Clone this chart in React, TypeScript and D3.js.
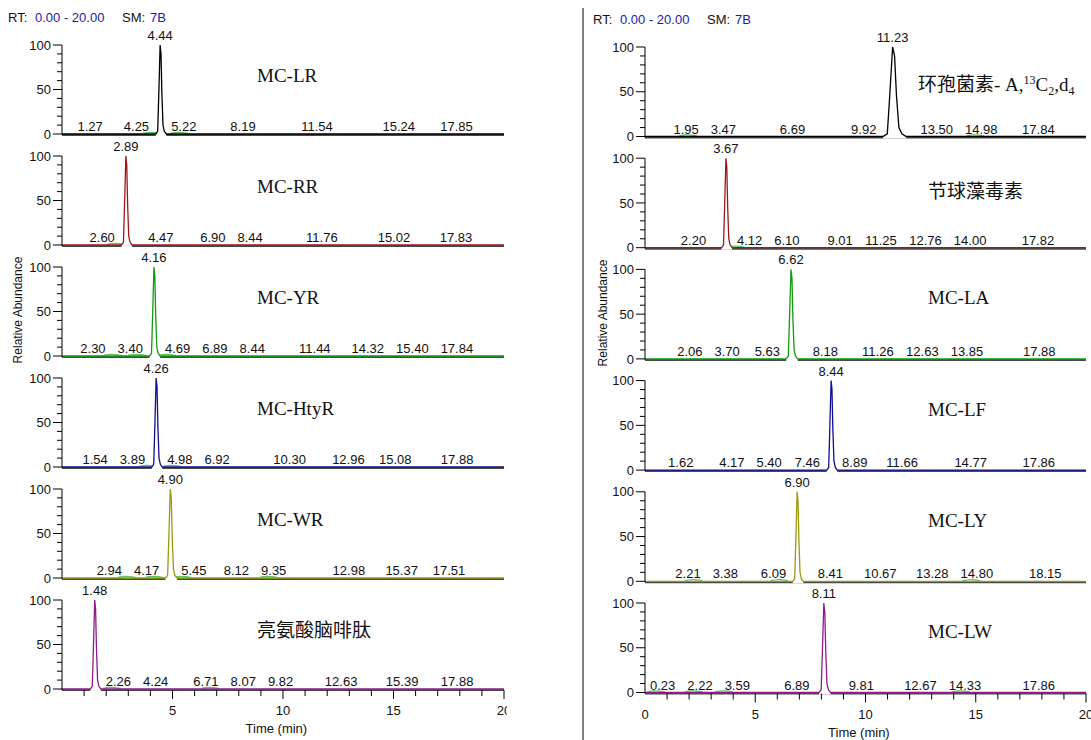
import React from 'react';
import * as d3 from 'd3';

// chromatogram panels, left column
const namesLeft = ['MC-LR', 'MC-RR', 'MC-YR', 'MC-HtyR', 'MC-WR', '亮氨酸脑啡肽'];
const peaksLeft = [4.44, 2.89, 4.16, 4.26, 4.90, 1.48];
const labelsLeft = [
  [1.27, 4.25, 5.22, 8.19, 11.54, 15.24, 17.85],
  [2.60, 4.47, 6.90, 8.44, 11.76, 15.02, 17.83],
  [2.30, 3.40, 4.69, 6.89, 8.44, 11.44, 14.32, 15.40, 17.84],
  [1.54, 3.89, 4.98, 6.92, 10.30, 12.96, 15.08, 17.88],
  [2.94, 4.17, 5.45, 8.12, 9.35, 12.98, 15.37, 17.51],
  [2.26, 4.24, 6.71, 8.07, 9.82, 12.63, 15.39, 17.88],
];
const minorLeft = [
  [4.05, 5.3],
  [2.45],
  [2.3, 3.4, 4.75],
  [3.89, 4.98],
  [2.94, 4.17, 5.45, 9.35],
  [2.26, 6.71],
];
const widthsLeft = [1, 1, 1, 1, 1.1, 1];

// right column
const namesRight = ['环孢菌素- A,^{13}C_{2},d_{4}', '节球藻毒素', 'MC-LA', 'MC-LF', 'MC-LY', 'MC-LW'];
const peaksRight = [11.23, 3.67, 6.62, 8.44, 6.90, 8.11];
const labelsRight = [
  [1.95, 3.47, 6.69, 9.92, 13.50, 14.98, 17.84],
  [2.20, 4.12, 6.10, 9.01, 11.25, 12.76, 14.00, 17.82],
  [2.06, 3.70, 5.63, 8.18, 11.26, 12.63, 13.85, 17.88],
  [1.62, 4.17, 5.40, 7.46, 8.89, 11.66, 14.77, 17.86],
  [2.21, 3.38, 6.09, 8.41, 10.67, 13.28, 14.80, 18.15],
  [0.23, 2.22, 3.59, 6.89, 9.81, 12.67, 14.33, 17.86],
];
const minorRight = [
  [1.95, 14.98],
  [4.12],
  [],
  [],
  [2.21, 6.09, 14.80],
  [0.5, 2.22, 3.59, 14.33],
];
const widthsRight = [2.2, 1, 1.1, 1, 1, 1.1];

// peak profile: [minutes offset, % height]
const PEAK_PROFILE = [[-0.2, 0], [-0.11, 3], [-0.06, 45], [0, 100], [0.04, 90], [0.08, 45], [0.13, 10], [0.19, 3], [0.28, 0]];
const MINOR_PROFILE = [[-0.4, 0.9], [-0.1, 2.0], [0.15, 1.6], [0.4, 0.6]];

const colors = ['#000000', '#9b1b1b', '#139a13', '#10108c', '#9a9a10', '#8e1c8e'];
const SANS = '"Liberation Sans", Arial, sans-serif';
const SERIF = '"Liberation Serif", "Times New Roman", "Noto Sans CJK SC", serif';
const GAP = 12;

function labelWidth(s: string) {
  const dots = (s.match(/\./g) || []).length;
  return s.length * 7.23 - dots * 3.6;
}

// spread labels so they don't overlap each other, staying within [lo, hi]
function spread(items: { c: number; w: number }[], lo: number, hi: number) {
  let clusters = items.map((it) => ({ items: [it], left: 0, total: it.w }));
  const layout = (cl: any) => {
    let off = 0;
    let sum = 0;
    cl.items.forEach((it: any) => {
      sum += it.c - (off + it.w / 2);
      off += it.w + GAP;
    });
    cl.total = off - GAP;
    cl.left = sum / cl.items.length;
    cl.left = Math.min(Math.max(cl.left, lo), hi - cl.total);
  };
  clusters.forEach(layout);
  let merged = true;
  while (merged) {
    merged = false;
    for (let i = 0; i < clusters.length - 1; i++) {
      const a = clusters[i];
      const b = clusters[i + 1];
      if (a.left + a.total + GAP > b.left) {
        a.items = a.items.concat(b.items);
        layout(a);
        clusters.splice(i + 1, 1);
        merged = true;
        break;
      }
    }
  }
  const out: number[] = [];
  clusters.forEach((cl) => {
    let off = cl.left;
    cl.items.forEach((it) => {
      out.push(off + it.w / 2);
      off += it.w + GAP;
    });
  });
  return out;
}

function RichName({ text, x, y }: { text: string; x: number; y: number }) {
  const parts = text.split(/(\^\{[^}]*\}|_\{[^}]*\})/).filter((p) => p !== '');
  let shift = 0;
  const spans = parts.map((p, i) => {
    let dy = 0;
    let content = p;
    let fs: number | undefined;
    if (p.startsWith('^{')) {
      content = p.slice(2, -1);
      dy = -7 - shift;
      shift = -7;
      fs = 12;
    } else if (p.startsWith('_{')) {
      content = p.slice(2, -1);
      dy = 4 - shift;
      shift = 4;
      fs = 12;
    } else {
      dy = -shift;
      shift = 0;
    }
    return (
      <tspan key={i} dy={dy} fontSize={fs}>
        {content}
      </tspan>
    );
  });
  return (
    <text x={x} y={y} fontFamily={SERIF} fontSize={19} fill="#111">
      {spans}
    </text>
  );
}

function Panel(props: any) {
  const { x, top, h, color, name, peak, labels, minor, pw, nameX, nameY, axis, showZero } = props;
  const y = d3.scaleLinear().domain([0, 100]).range([top + h, top]);
  const y0 = y(0);
  const [d0, d1] = x.domain();
  const peakPts = PEAK_PROFILE.map(([dt, v]) => [peak + dt * pw, v]);
  const pts = [[d0, 0], ...peakPts, [d1, 0]];
  const line = d3.line<number[]>().x((d) => x(d[0])).y((d) => y(d[1]));
  const area = d3.area<number[]>().x((d) => x(d[0])).y0(y0 + 2).y1((d) => y(d[1]));
  const minorLine = d3.line<number[]>().x((d) => x(d[0])).y((d) => y(d[1])).curve(d3.curveBasis);
  const px = x(peak);
  const x0 = x(d0);

  const yTicks = y.ticks(10);
  const xTicks = x.ticks(20);

  // label placement: keep clear of the main peak, then of each other
  const items = labels.map((t: number) => {
    const s = t.toFixed(2);
    return { t, s, c: x(t), w: labelWidth(s) };
  });
  const leftSide = items.filter((it: any) => it.c < px);
  const rightSide = items.filter((it: any) => it.c >= px);
  const lPos = spread(leftSide, x0 + 5, px - 11);
  const rPos = spread(rightSide, px + 11, Infinity);
  const placed = [
    ...leftSide.map((it: any, i: number) => ({ ...it, cx: lPos[i] })),
    ...rightSide.map((it: any, i: number) => ({ ...it, cx: rPos[i] })),
  ];

  return (
    <g>
      {/* baseline */}
      <line x1={x(d0)} x2={x(d1)} y1={y0 + 1} y2={y0 + 1} stroke="#4a4a4a" strokeWidth={2} />
      {/* minor humps */}
      {minor.map((t: number, i: number) => (
        <path key={i} d={minorLine(MINOR_PROFILE.map(([dt, v]) => [t + dt, v])) || ''} fill="none" stroke="#5cc65c" strokeWidth={1.2} />
      ))}
      <path d={area(peakPts) || ''} fill="#fff" />
      <path d={line(pts) || ''} fill="none" stroke={color} strokeWidth={1.3} />
      {/* y axis */}
      <line x1={x0} x2={x0} y1={y(100)} y2={y0 + 1} stroke="#000" strokeWidth={1} />
      {yTicks.map((v) => (
        <line key={v} x1={x0 - (v % 50 === 0 ? 9 : 5)} x2={x0} y1={y(v)} y2={y(v)} stroke="#000" strokeWidth={1} />
      ))}
      {[0, 50, 100].map((v) => (
        <text key={v} x={x0 - 11} y={y(v)} dy="0.36em" textAnchor="end" fontFamily={SANS} fontSize={13} fill="#111">
          {v}
        </text>
      ))}
      {/* peak label */}
      <text x={px} y={y(100) - 5} textAnchor="middle" fontFamily={SANS} fontSize={13} fill="#111">
        {peak.toFixed(2)}
      </text>
      {placed.map((it: any, i: number) => (
        <text key={i} x={it.cx} y={y0 - 3} textAnchor="middle" fontFamily={SANS} fontSize={13} fill="#111">
          {it.s}
        </text>
      ))}
      <RichName text={name} x={nameX} y={nameY} />
      {axis && (
        <g>
          {xTicks.filter((v) => v > 0).map((v) => (
            <line key={v} x1={x(v)} x2={x(v)} y1={y0 + 1} y2={y0 + (v % 5 === 0 ? 10 : 7)} stroke="#000" strokeWidth={1} />
          ))}
          {xTicks
            .filter((v) => v % 5 === 0 && (showZero || v > 0))
            .map((v) => (
              <text key={v} x={x(v)} y={y0 + 26} textAnchor="middle" fontFamily={SANS} fontSize={13} fill="#111">
                {v}
              </text>
            ))}
          <text x={x(9.7)} y={y0 + 44} textAnchor="middle" fontFamily={SANS} fontSize={13} fill="#111">
            Time (min)
          </text>
        </g>
      )}
    </g>
  );
}

function Header({ x, y }: { x: number; y: number }) {
  return (
    <text y={y} fontFamily={SANS} fontSize={13} fill="#111">
      <tspan x={x}>RT:</tspan>
      <tspan x={x + 27} fill="#1c1ca6">0.00 - 20.00</tspan>
      <tspan x={x + 114}>SM:</tspan>
      <tspan x={x + 142} fill="#1c1ca6">7B</tspan>
    </text>
  );
}

export default function App() {
  const xLeft = d3.scaleLinear().domain([0, 20]).range([62, 504]);
  const xRight = d3.scaleLinear().domain([0, 20]).range([645, 1086]);
  const hL = 89;
  const hR = 89.5;
  return (
    <svg width={1091} height={740} style={{ position: 'absolute', left: 0, top: 0, background: '#fff' }}>
      <defs>
        <clipPath id="clipLeft">
          <rect x={0} y={0} width={507} height={740} />
        </clipPath>
      </defs>
      <Header x={8} y={22} />
      <Header x={593} y={24} />
      <line x1={583} x2={583} y1={8} y2={740} stroke="#000" strokeWidth={1} />
      <g clipPath="url(#clipLeft)">
        {namesLeft.map((n, i) => {
          const top = 45 + i * 111;
          return (
            <Panel
              key={i}
              x={xLeft}
              top={top}
              h={hL}
              color={colors[i]}
              name={n}
              peak={peaksLeft[i]}
              labels={labelsLeft[i]}
              minor={minorLeft[i]}
              pw={widthsLeft[i]}
              nameX={257}
              nameY={top + 37}
              axis={i === namesLeft.length - 1}
              showZero={false}
            />
          );
        })}
      </g>
      {namesRight.map((n, i) => {
        const top = 47 + i * 111.2;
        return (
          <Panel
            key={i}
            x={xRight}
            top={top}
            h={hR}
            color={colors[i]}
            name={n}
            peak={peaksRight[i]}
            labels={labelsRight[i]}
            minor={minorRight[i]}
            pw={widthsRight[i]}
            nameX={i === 0 ? 918 : 928}
            nameY={top + (i === 0 ? 44 : i === 1 ? 40 : 35)}
            axis={i === namesRight.length - 1}
            showZero={true}
          />
        );
      })}
      <text transform="translate(22,310) rotate(-90)" textAnchor="middle" fontFamily={SANS} fontSize={12} fill="#111">
        Relative Abundance
      </text>
      <text transform="translate(607,313) rotate(-90)" textAnchor="middle" fontFamily={SANS} fontSize={12} fill="#111">
        Relative Abundance
      </text>
    </svg>
  );
}
